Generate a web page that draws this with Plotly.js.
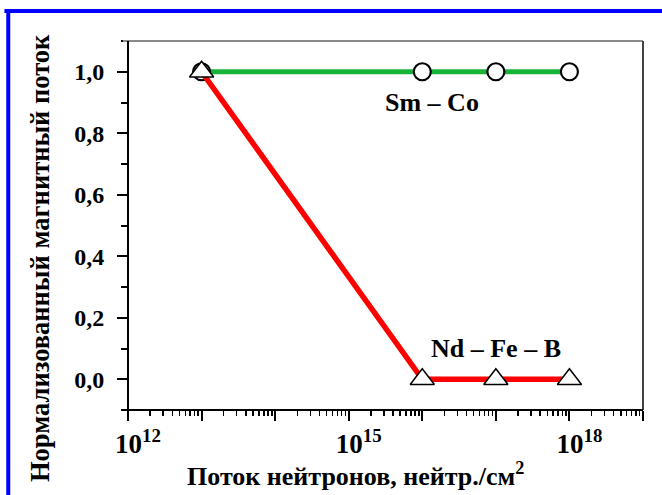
<!DOCTYPE html>
<html>
<head>
<meta charset="utf-8">
<script src="https://cdn.plot.ly/plotly-3.0.1.min.js"></script>
<style>
  html, body { margin: 0; padding: 0; background: #fff; }
  #chart { width: 662px; height: 495px; }
</style>
</head>
<body>
<div id="chart"></div>
<script>
// Data
const fluence = [1e13, 1e16, 1e17, 1e18];          // нейтр./см²
const smCo    = [1.0, 1.0, 1.0, 1.0];              // Sm – Co
const ndFeB   = [1.0, 0.0, 0.0, 0.0];              // Nd – Fe – B
const xTickVals = [1e12, 1e13, 1e14, 1e15, 1e16, 1e17, 1e18, 1e19];
const xTickText = ['10<sup>12</sup>', '', '', '10<sup>15</sup>', '', '', '10<sup>18</sup>', ''];
const yTickVals = [0, 0.2, 0.4, 0.6, 0.8, 1.0];
const yTickText = ['0,0', '0,2', '0,4', '0,6', '0,8', '1,0'];

const FONT = '"Liberation Serif", "Times New Roman", Times, serif';

const traces = [
  {
    x: fluence, y: smCo, type: 'scatter', mode: 'lines+markers', name: 'Sm – Co',
    line: { color: '#19b33a', width: 5 },
    marker: { symbol: 'circle', size: 17, color: '#ffffff', line: { color: '#000000', width: 2.2 } }
  },
  {
    x: fluence, y: ndFeB, type: 'scatter', mode: 'lines+markers', name: 'Nd – Fe – B',
    line: { color: '#ff0000', width: 5.5 },
    marker: { symbol: 'triangle-up', size: 21, color: '#ffffff', line: { color: '#000000', width: 1.5 } }
  }
];

const layout = {
  width: 662, height: 495,
  margin: { l: 128, r: 19, t: 41, b: 85 },
  paper_bgcolor: '#ffffff', plot_bgcolor: '#ffffff',
  showlegend: false,
  font: { family: FONT, color: '#000000' },
  xaxis: {
    type: 'log', range: [12, 19],
    tickvals: xTickVals, ticktext: xTickText,
    ticks: 'outside', ticklen: 10, tickwidth: 2, tickcolor: '#000',
    minor: { ticks: 'outside', ticklen: 5, tickwidth: 1.5, tickcolor: '#000', dtick: 'D1' },
    ticklabelshift: 10, ticklabelstandoff: 0,
    showgrid: false, zeroline: false, showline: false,
    tickfont: { family: FONT, size: 27, color: '#000', weight: 'bold' }
  },
  yaxis: {
    range: [-0.1, 1.1],
    tickvals: yTickVals, ticktext: yTickText,
    ticks: 'outside', ticklen: 10, tickwidth: 2, tickcolor: '#000',
    minor: { ticks: 'outside', ticklen: 6, tickwidth: 2, tickcolor: '#000', dtick: 0.1 },
    ticklabelstandoff: 8,
    showgrid: false, zeroline: false, showline: false,
    tickfont: { family: FONT, size: 24, color: '#000', weight: 'bold' }
  },
  shapes: [
    { type: 'line', xref: 'paper', yref: 'paper', x0: -0.01, x1: 1, y0: 1, y1: 1, line: { color: '#8a8a8a', width: 2 } },
    { type: 'line', xref: 'paper', yref: 'paper', x0: 1, x1: 1, y0: 0, y1: 1, line: { color: '#444444', width: 2 } },
    { type: 'line', xref: 'paper', yref: 'paper', x0: -0.01, x1: 1, y0: 0, y1: 0, line: { color: '#000000', width: 2 } },
    { type: 'line', xref: 'paper', yref: 'paper', x0: 0, x1: 0, y0: -0.025, y1: 1, line: { color: '#000000', width: 2 } },
    { type: 'line', xref: 'paper', yref: 'paper', x0: -0.24, x1: 1.05, y0: 1.0813, y1: 1.0813, line: { color: '#0000ff', width: 4 } },
    { type: 'line', xref: 'paper', yref: 'paper', x0: -0.2325, x1: -0.2325, y0: -0.25, y1: 1.087, line: { color: '#0000ff', width: 4 } }
  ],
  annotations: [
    { x: 16.13, y: 0.9, xref: 'x', yref: 'y', text: 'Sm – Co', showarrow: false,
      xanchor: 'center', yanchor: 'middle',
      font: { family: FONT, size: 26, color: '#000', weight: 'bold' } },
    { x: 17.0, y: 0.1, xref: 'x', yref: 'y', text: 'Nd – Fe – B', showarrow: false,
      xanchor: 'center', yanchor: 'middle',
      font: { family: FONT, size: 26, color: '#000', weight: 'bold' } },
    { x: 355, y: 474, text: 'Поток нейтронов, нейтр./см<sup>2</sup>', showarrow: false,
      xanchor: 'center', yanchor: 'middle',
      font: { family: FONT, size: 26, color: '#000', weight: 'bold' } },
    { x: 40, y: 258, textangle: -90, text: 'Нормализованный магнитный поток', showarrow: false,
      xanchor: 'center', yanchor: 'middle',
      font: { family: FONT, size: 26.5, color: '#000', weight: 'bold' } }
  ]
};

// convert pixel-positioned annotations (titles) to paper coordinates
(function () {
  const L = layout.margin.l;
  const W = layout.width - layout.margin.l - layout.margin.r;
  const H = layout.height - layout.margin.t - layout.margin.b;
  for (let i = 2; i < 4; i++) {
    const a = layout.annotations[i];
    a.xref = 'paper'; a.yref = 'paper';
    a.x = (a.x - L) / W;
    a.y = (layout.height - layout.margin.b - a.y) / H;
  }
})();

Plotly.newPlot('chart', traces, layout, { displayModeBar: false, staticPlot: true });
</script>
</body>
</html>
